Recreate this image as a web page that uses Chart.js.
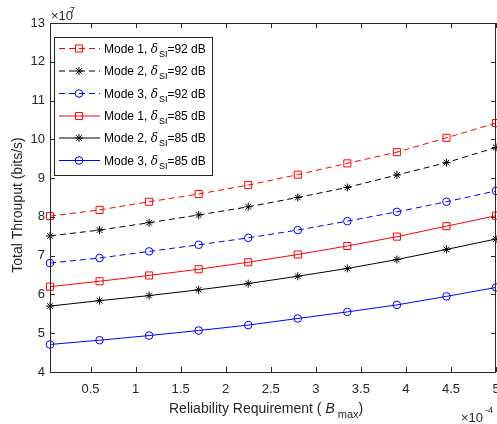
<!DOCTYPE html>
<html>
<head>
<meta charset="utf-8">
<script src="https://cdn.jsdelivr.net/npm/chart.js@4/dist/chart.umd.min.js"></script>
<style>
  html, body { margin: 0; padding: 0; background: #fff; overflow: hidden; }
  #wrap { width: 497px; height: 424px; }
</style>
</head>
<body>
<div id="wrap"><canvas id="c" width="497" height="424"></canvas></div>
<script>
// Data (x in units of 1e-4, y in units of 1e7)
const xValues = [0.05, 0.6, 1.15, 1.7, 2.25, 2.8, 3.35, 3.9, 4.45, 5.0];
const mode1_92 = [8.02, 8.18, 8.39, 8.59, 8.82, 9.09, 9.38, 9.67, 10.04, 10.42];
const mode2_92 = [7.51, 7.66, 7.85, 8.05, 8.26, 8.50, 8.76, 9.08, 9.40, 9.79];
const mode3_92 = [6.81, 6.94, 7.11, 7.28, 7.46, 7.66, 7.89, 8.13, 8.39, 8.67];
const mode1_85 = [6.20, 6.34, 6.49, 6.65, 6.83, 7.03, 7.25, 7.49, 7.76, 8.03];
const mode2_85 = [5.70, 5.84, 5.97, 6.12, 6.28, 6.47, 6.67, 6.90, 7.16, 7.43];
const mode3_85 = [4.71, 4.82, 4.94, 5.07, 5.21, 5.38, 5.55, 5.73, 5.95, 6.18];
const xTicks = [0.5, 1, 1.5, 2, 2.5, 3, 3.5, 4, 4.5, 5];
const yTicks = [4, 5, 6, 7, 8, 9, 10, 11, 12, 13];
const seriesInfo = [
  { mode: 'Mode 1, ', db: '=92 dB', data: mode1_92, color: '#ff0000', dash: [6, 4], style: 'rect' },
  { mode: 'Mode 2, ', db: '=92 dB', data: mode2_92, color: '#000000', dash: [6, 4], style: 'star' },
  { mode: 'Mode 3, ', db: '=92 dB', data: mode3_92, color: '#0000ff', dash: [6, 4], style: 'circle' },
  { mode: 'Mode 1, ', db: '=85 dB', data: mode1_85, color: '#ff0000', dash: [], style: 'rect' },
  { mode: 'Mode 2, ', db: '=85 dB', data: mode2_85, color: '#000000', dash: [], style: 'star' },
  { mode: 'Mode 3, ', db: '=85 dB', data: mode3_85, color: '#0000ff', dash: [], style: 'circle' }
];
const radiusFor = { rect: 5, star: 4, circle: 3.8 };

const FONT = '"Liberation Sans", Arial, Helvetica, sans-serif';
const AX = '#262626';

const datasets = seriesInfo.map(s => ({
  label: s.mode + s.db,
  data: xValues.map((x, i) => ({ x: x, y: s.data[i] })),
  borderColor: s.color,
  backgroundColor: 'rgba(0,0,0,0)',
  borderWidth: 1,
  borderDash: s.dash,
  pointStyle: s.style,
  pointRadius: radiusFor[s.style],
  pointBorderColor: s.color,
  pointBackgroundColor: 'rgba(0,0,0,0)',
  pointBorderWidth: 1,
  tension: 0,
  clip: false
}));

const decor = {
  id: 'decor',
  afterDraw(chart) {
    const ctx = chart.ctx;
    const a = chart.chartArea;
    const xs = chart.scales.x, ys = chart.scales.y;
    ctx.save();
    // box
    ctx.strokeStyle = AX;
    ctx.lineWidth = 1;
    ctx.setLineDash([]);
    ctx.strokeRect(Math.round(a.left) + 0.5, Math.round(a.top) + 0.5, Math.round(a.right - a.left) - 1, Math.round(a.bottom - a.top));
    // inward ticks
    const tl = 5;
    ctx.beginPath();
    xTicks.forEach(v => {
      const px = Math.round(xs.getPixelForValue(v)) + 0.5;
      ctx.moveTo(px, a.bottom); ctx.lineTo(px, a.bottom - tl);
      ctx.moveTo(px, a.top); ctx.lineTo(px, a.top + tl);
    });
    yTicks.forEach(v => {
      const py = Math.round(ys.getPixelForValue(v)) + 0.5;
      ctx.moveTo(a.left, py); ctx.lineTo(a.left + tl, py);
      ctx.moveTo(a.right, py); ctx.lineTo(a.right - tl, py);
    });
    ctx.stroke();

    ctx.fillStyle = AX;
    // tick labels
    ctx.font = '13px ' + FONT;
    ctx.textAlign = 'center';
    ctx.textBaseline = 'middle';
    xTicks.forEach(v => {
      ctx.fillText(String(v), xs.getPixelForValue(v), 389);
    });
    ctx.textAlign = 'right';
    yTicks.forEach(v => {
      ctx.fillText(String(v), a.left - 5, ys.getPixelForValue(v));
    });

    ctx.textBaseline = 'alphabetic';
    // x10^7
    ctx.font = '13px ' + FONT;
    ctx.textAlign = 'left';
    ctx.fillText('\u00d710', 51, 20);
    ctx.font = '9px ' + FONT;
    ctx.fillText('7', 70, 13);
    // x10^-4
    ctx.font = '13px ' + FONT;
    ctx.fillText('\u00d710', 461, 422);
    ctx.font = '9px ' + FONT;
    ctx.fillText('-4', 485, 413);

    // x title
    ctx.font = '14px ' + FONT;
    const t1 = 'Reliability Requirement ( ';
    const w1 = ctx.measureText(t1).width;
    ctx.font = 'italic 14px ' + FONT;
    const wB = ctx.measureText('B').width;
    ctx.font = '11px ' + FONT;
    const wSub = ctx.measureText(' max').width;
    let x0 = 169;
    const yb = 413;
    ctx.font = '14px ' + FONT;
    ctx.fillText(t1, x0, yb);
    ctx.font = 'italic 14px ' + FONT;
    ctx.fillText('B', x0 + w1, yb);
    ctx.font = '11px ' + FONT;
    ctx.fillText(' max', x0 + w1 + wB, yb + 5);
    ctx.font = '14px ' + FONT;
    ctx.fillText(')', x0 + w1 + wB + wSub, yb);

    // y title
    ctx.save();
    ctx.translate(22, 205);
    ctx.rotate(-Math.PI / 2);
    ctx.textAlign = 'center';
    ctx.font = '14px ' + FONT;
    ctx.fillText('Total Throuput (bits/s)', 0, 0);
    ctx.restore();

    // legend
    const lx = 54.5, ly = 37.5, lw = 158, lh = 138;
    ctx.fillStyle = '#ffffff';
    ctx.fillRect(lx, ly, lw, lh);
    ctx.strokeStyle = AX;
    ctx.lineWidth = 1;
    ctx.strokeRect(lx, ly, lw, lh);
    const rows = [48.5, 71, 93.5, 116, 138, 160.5];
    seriesInfo.forEach((s, i) => {
      const y = rows[i];
      ctx.strokeStyle = s.color;
      ctx.lineWidth = 1;
      ctx.setLineDash(s.dash);
      ctx.beginPath();
      ctx.moveTo(59, y); ctx.lineTo(100, y);
      ctx.stroke();
      ctx.setLineDash([]);
      ctx.fillStyle = 'rgba(0,0,0,0)';
      ctx.strokeStyle = s.color;
      Chart.helpers.drawPoint(ctx, { pointStyle: s.style, radius: radiusFor[s.style], rotation: 0, borderWidth: 1 }, 79, y);
      ctx.fillStyle = '#000';
      ctx.textAlign = 'left';
      ctx.font = '12px ' + FONT;
      let tx = 104;
      const base = y + 4;
      ctx.fillText(s.mode, tx, base);
      tx += ctx.measureText(s.mode).width;
      ctx.font = 'italic 12px "DejaVu Serif", serif';
      ctx.fillText('\u03b4', tx, base);
      tx += ctx.measureText('\u03b4').width + 1;
      ctx.font = '9px ' + FONT;
      ctx.fillText('SI', tx, base + 4);
      tx += ctx.measureText('SI').width;
      ctx.font = '12px ' + FONT;
      ctx.fillText(s.db, tx, base);
    });
    ctx.restore();
  }
};

new Chart(document.getElementById('c'), {
  type: 'line',
  data: { datasets: datasets },
  options: {
    responsive: false,
    animation: false,
    layout: { autoPadding: false, padding: { left: 0, top: 23, right: 1, bottom: 0 } },
    plugins: { legend: { display: false }, tooltip: { enabled: false } },
    scales: {
      x: {
        type: 'linear',
        min: 0.05, max: 5,
        afterBuildTicks: (sc) => { sc.ticks = xTicks.map(v => ({ value: v })); },
        afterFit: (sc) => { sc.height = 52; },
        grid: { display: false, drawTicks: false },
        border: { display: false },
        ticks: { display: false }
      },
      y: {
        type: 'linear',
        min: 4, max: 13,
        afterBuildTicks: (sc) => { sc.ticks = yTicks.map(v => ({ value: v })); },
        afterFit: (sc) => { sc.width = 50; },
        grid: { display: false, drawTicks: false },
        border: { display: false },
        ticks: { display: false }
      }
    }
  },
  plugins: [decor]
});
</script>
</body>
</html>
